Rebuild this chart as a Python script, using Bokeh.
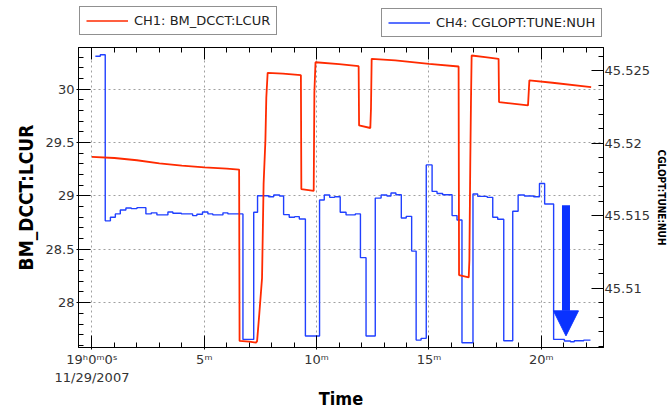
from bokeh.plotting import figure
from bokeh.layouts import column
from bokeh.models import (Range1d, LinearAxis, SingleIntervalTicker, NumeralTickFormatter,
                          CustomJSTickFormatter, Legend, LegendItem, Arrow, NormalHead)
from bokeh.embed import file_html
from bokeh.resources import INLINE

# ---- data (time in minutes after 19:00:00, 11/29/2007) ----
red_t = [0.0, 1.0, 2.0, 3.0, 4.0, 5.0, 6.0, 6.55, 6.57, 7.0, 7.3, 7.35, 7.45, 7.57, 7.64,
         7.72, 7.76, 7.82, 8.5, 9.3, 9.32, 9.87, 9.9, 9.95, 11.0, 11.87, 11.89, 12.39, 12.42,
         12.45, 13.5, 15.0, 16.32, 16.34, 16.77, 16.8, 16.84, 16.87, 16.9, 17.5, 18.1, 18.12,
         19.41, 19.47, 20.5, 22.22]
red_v = [29.365, 29.355, 29.334, 29.305, 29.284, 29.268, 29.256, 29.247, 27.642, 27.635, 27.626,
         27.64, 27.90, 28.23, 29.116, 29.52, 29.92, 30.153, 30.145, 30.131, 29.063, 29.047, 29.97,
         30.252, 30.235, 30.215, 29.66, 29.636, 29.82, 30.284, 30.27, 30.237, 30.212, 28.259,
         28.237, 28.4, 29.32, 29.866, 30.315, 30.3, 30.284, 29.879, 29.848, 30.082, 30.06, 30.019]

blue_t = [0.15, 0.37, 0.59, 0.82, 1.04, 1.26, 1.51, 1.75, 2.0, 2.4, 2.64, 2.89, 3.38, 3.6, 3.98,
          4.48, 4.67, 4.92, 5.16, 5.38, 5.83, 6.05, 6.72, 7.2, 7.37, 7.86, 8.09, 8.35, 8.53,
          8.78, 9.02, 9.23, 9.5, 10.13, 10.34, 10.58, 10.8, 11.05, 11.31, 11.72, 11.95, 12.2,
          12.61, 12.87, 13.13, 13.31, 13.53, 13.77, 13.99, 14.23, 14.43, 14.65, 14.88, 15.14,
          15.36, 15.61, 16.03, 16.25, 16.47, 16.96, 17.17, 17.59, 17.84, 18.06, 18.33, 18.73,
          18.97, 19.25, 19.66, 19.92, 20.15, 20.55, 21.03, 21.3, 21.47, 21.89, 22.19]
blue_v = [45.5260, 45.5261, 45.51464, 45.51489, 45.51512, 45.51539, 45.51553, 45.51548, 45.51555,
          45.51512, 45.51519, 45.51505, 45.51525, 45.51516, 45.51512, 45.51500, 45.51509,
          45.51525, 45.51512, 45.51505, 45.51519, 45.51512, 45.50646, 45.51523, 45.51637,
          45.51630, 45.51642, 45.51635, 45.51507, 45.51489, 45.51493, 45.51477, 45.50669,
          45.51608, 45.51642, 45.51626, 45.51630, 45.51523, 45.51505, 45.51512, 45.51210,
          45.50669, 45.51621, 45.51642, 45.51635, 45.51656, 45.51644, 45.51484, 45.51495,
          45.51255, 45.50641, 45.50653, 45.51850, 45.51667, 45.51653, 45.51644, 45.51500,
          45.51470, 45.50623, 45.51649, 45.51633, 45.51626, 45.51489, 45.51475, 45.50637,
          45.51530, 45.51642, 45.51635, 45.51630, 45.51722, 45.51580, 45.50646, 45.50635,
          45.50630, 45.50637, 45.50641, 45.50641]

series_labels = ["CH1: BM_DCCT:LCUR", "CH4: CGLOPT:TUNE:NUH"]
left_label = "BM_DCCT:LCUR"
right_label = "CGLOPT:TUNE:NUH"
x_label = "Time"
start_label = "19\u02b00\u1d500\u02e2"
date_label = "11/29/2007"

# arrow annotation (minutes, left-axis units)
arrow_x = 21.1
arrow_top = 28.913
arrow_tip = 27.689

RED = "#ff2a00"
BLUE = "#2040ff"
ARROW_BLUE = "#0a32ff"
TICK_FONT = "DejaVu Sans"
BOLD_FONT = "DejaVu Sans Condensed, Liberation Sans"

W = 670
TOP_H = 46
MAIN_H = 411 - TOP_H

# ---------------- main chart ----------------
p = figure(width=W, height=MAIN_H, output_backend="svg", toolbar_location=None,
           x_range=Range1d(-0.6, 22.77), y_range=Range1d(27.58, 30.39),
           min_border_left=78, min_border_right=67, min_border_top=1, min_border_bottom=63)
p.background_fill_color = "white"
p.border_fill_color = "white"
p.outline_line_color = "black"
p.outline_line_width = 1

bx = p.below[0]
ly = p.left[0]

p.extra_y_ranges = {"tune": Range1d(45.5059, 45.5266)}

xt = SingleIntervalTicker(interval=5, num_minor_ticks=5)
yt = SingleIntervalTicker(interval=0.5, num_minor_ticks=5)
rt = SingleIntervalTicker(interval=0.005, num_minor_ticks=5)

bx.ticker = xt
p.xgrid.ticker = xt
ly.ticker = yt
p.ygrid.ticker = yt

fmt_code = """
const m = Math.round(tick);
if (m === 0) { return START + "\\n" + DATE; }
return m + "\\u1d50";
"""
bx.formatter = CustomJSTickFormatter(code=fmt_code, args=dict(START=start_label, DATE=date_label))
ly.formatter = NumeralTickFormatter(format="0.[0]")

ra = LinearAxis(y_range_name="tune", ticker=rt, formatter=NumeralTickFormatter(format="0.[000]"),
                axis_label=right_label)
p.add_layout(ra, "right")

top = LinearAxis(ticker=xt)
p.add_layout(top, "above")

for ax in [bx, ly, ra, top]:
    ax.axis_line_color = "black"
    ax.major_tick_line_color = "black"
    ax.minor_tick_line_color = "black"
    ax.major_tick_in = 12
    ax.major_tick_out = 2
    ax.minor_tick_in = 5
    ax.minor_tick_out = 0
    ax.major_label_text_font = TICK_FONT
    ax.major_label_text_font_size = "13px"
    ax.major_label_text_color = "#333333"
    ax.axis_label_text_font = BOLD_FONT
    ax.axis_label_text_font_style = "bold"
    ax.axis_label_text_color = "black"

# the top axis only mirrors the ticks
top.major_label_text_font_size = "1px"
top.major_label_text_color = None
top.major_label_standoff = 0
top.major_tick_out = 0

bx.major_label_standoff = 2
bx.axis_label = x_label
bx.axis_label_text_font_size = "18px"
bx.axis_label_standoff = 0

ly.major_label_standoff = 2
ly.axis_label = left_label
ly.axis_label_text_font_size = "19px"
ly.axis_label_standoff = 6

ra.major_label_standoff = 1
ra.major_tick_out = 0
ra.axis_label_text_font_size = "10px"
ra.axis_label_standoff = 3

for g in [p.xgrid[0], p.ygrid[0]]:
    g.grid_line_color = "#a0a0a0"
    g.grid_line_dash = "2 3"
    g.grid_line_width = 1

r_blue = p.step(blue_t, blue_v, mode="after", y_range_name="tune", line_color=BLUE, line_width=1.4)
r_red = p.line(red_t, red_v, line_color=RED, line_width=1.8)

p.add_layout(Arrow(end=NormalHead(size=25, fill_color=ARROW_BLUE, line_color=ARROW_BLUE),
                   x_start=arrow_x, y_start=arrow_top, x_end=arrow_x, y_end=arrow_tip,
                   line_color=ARROW_BLUE, line_width=8))

# ---------------- legend strip above the chart ----------------
lg_fig = figure(width=W, height=TOP_H, output_backend="svg", toolbar_location=None,
                x_range=Range1d(0, 1), y_range=Range1d(0, 1),
                min_border=0, min_border_left=0, min_border_right=0,
                min_border_top=0, min_border_bottom=0)
lg_fig.axis.visible = False
lg_fig.grid.visible = False
lg_fig.outline_line_color = None
lg_fig.background_fill_color = "white"
lg_fig.border_fill_color = "white"

# legend keys (drawn only as legend glyphs; their points lie outside the visible range)
k_red = lg_fig.line(x=[-5, -4], y=[-5, -5], line_color=RED, line_width=1.5)
k_blue = lg_fig.line(x=[-5, -4], y=[-5, -5], line_color=BLUE, line_width=1.5)


def make_legend(label, rend, loc):
    lg = Legend(items=[LegendItem(label=label, renderers=[rend])], location=loc)
    lg.glyph_width = 42
    lg.glyph_height = 15
    lg.label_standoff = 6
    lg.padding = 6
    lg.margin = 0
    lg.spacing = 0
    lg.border_line_color = "#222222"
    lg.border_line_width = 1
    lg.background_fill_color = "white"
    lg.background_fill_alpha = 1
    lg.label_text_font = TICK_FONT
    lg.label_text_font_size = "13px"
    lg.label_text_color = "#222222"
    return lg


lg_fig.add_layout(make_legend(series_labels[0], k_red, (1, 11)))
lg_fig.add_layout(make_legend(series_labels[1], k_blue, (303, 9)))

layout = column(lg_fig, p, spacing=0)
open("out.html", "w").write(file_html(layout, INLINE))
